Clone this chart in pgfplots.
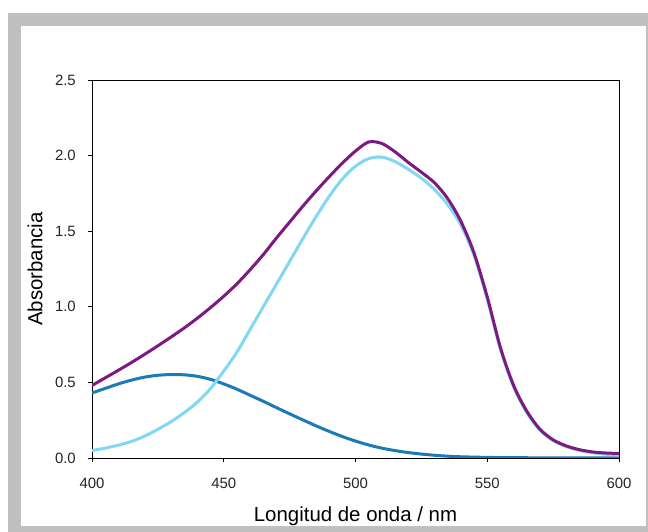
\documentclass[border=0pt]{standalone}
\usepackage{pgfplots}
\pgfplotsset{compat=1.18}
\usepackage{fontspec}
\setmainfont{Liberation Sans}
\definecolor{framegray}{HTML}{C0C0C0}
\definecolor{cpurple}{HTML}{7D1A80}
\definecolor{cdark}{HTML}{1C7BB6}
\definecolor{clight}{HTML}{80D8F2}
\begin{document}
\begin{tikzpicture}[x=1bp,y=1bp]
\useasboundingbox (0,0) rectangle (648,532);
\fill[framegray] (8,0) rectangle (648,519);
\fill[white] (21,6) rectangle (645.7,506);
\begin{axis}[
  at={(92bp,74bp)}, anchor=south west,
  scale only axis, width=527bp, height=378bp,
  xmin=400, xmax=600, ymin=0, ymax=2.5,
  xtick={400,450,...,600}, ytick={0,0.5,...,2.5},
  tick align=outside, tick pos=left,
  major tick length=4bp,
  axis line style={line width=0.9bp, black},
  every tick/.style={line width=0.9bp, black},
  /pgf/number format/assume math mode=true,
  ticklabel style={font=\fontsize{15}{18}\selectfont, text=black!85},
  yticklabel style={/pgf/number format/fixed, /pgf/number format/fixed zerofill, /pgf/number format/precision=1},
  yticklabel style={anchor=east, inner sep=0pt, xshift=-12bp},
  xticklabel style={anchor=base, inner sep=0pt, yshift=-27bp},
  xlabel={Longitud de onda / nm},
  ylabel={Absorbancia},
  label style={font=\fontsize{20.5}{24}\selectfont},
  xlabel style={at={(axis description cs:0.5,-0.1667)}, anchor=base},
  ylabel style={at={(axis description cs:-0.108,0.5)}, anchor=center},
  clip=true,
]
\addplot[cdark, line width=3bp, smooth] coordinates {
(400,0.43) (405,0.46) (410,0.49) (415,0.515) (420,0.535) (425,0.547) (430,0.552)
(435,0.550) (440,0.540) (445,0.52) (450,0.49) (455,0.455) (460,0.415) (465,0.375)
(470,0.333) (475,0.292) (480,0.252) (485,0.213) (490,0.176) (495,0.142) (500,0.112)
(505,0.086) (510,0.065) (515,0.049) (520,0.036) (525,0.026) (530,0.018) (535,0.012)
(540,0.008) (550,0.004) (560,0.002) (580,0.001) (600,0.000)
};
\addplot[clight, line width=3bp, smooth] coordinates {
(400,0.05) (405,0.065) (410,0.085) (415,0.11) (420,0.145) (425,0.19) (430,0.24)
(435,0.30) (440,0.37) (445,0.46) (450,0.575) (455,0.70) (460,0.85) (465,1.00)
(470,1.15) (475,1.30) (480,1.45) (485,1.595) (490,1.73) (495,1.845) (500,1.93)
(505,1.98) (510,1.99) (515,1.96) (520,1.91) (525,1.85) (530,1.775) (535,1.675)
(540,1.54) (545,1.34) (550,1.05) (555,0.72) (560,0.47) (565,0.30) (570,0.185)
(575,0.115) (580,0.075) (585,0.05) (590,0.035) (595,0.025) (600,0.02)
};
\addplot[cpurple, line width=3bp, smooth] coordinates {
(400,0.48) (405,0.53) (410,0.58) (415,0.632) (420,0.686) (425,0.742) (430,0.80)
(435,0.86) (440,0.925) (445,0.995) (450,1.07) (455,1.152) (460,1.245) (465,1.345)
(470,1.455) (475,1.56) (480,1.665) (485,1.765) (490,1.86) (495,1.95) (500,2.03)
(505,2.09) (510,2.08) (515,2.025) (520,1.955) (525,1.89) (530,1.82) (535,1.715)
(540,1.565) (545,1.355) (550,1.065) (555,0.73) (560,0.48) (565,0.31) (570,0.19)
(575,0.12) (580,0.08) (585,0.055) (590,0.04) (595,0.033) (600,0.03)
};
\end{axis}
\end{tikzpicture}
\end{document}
